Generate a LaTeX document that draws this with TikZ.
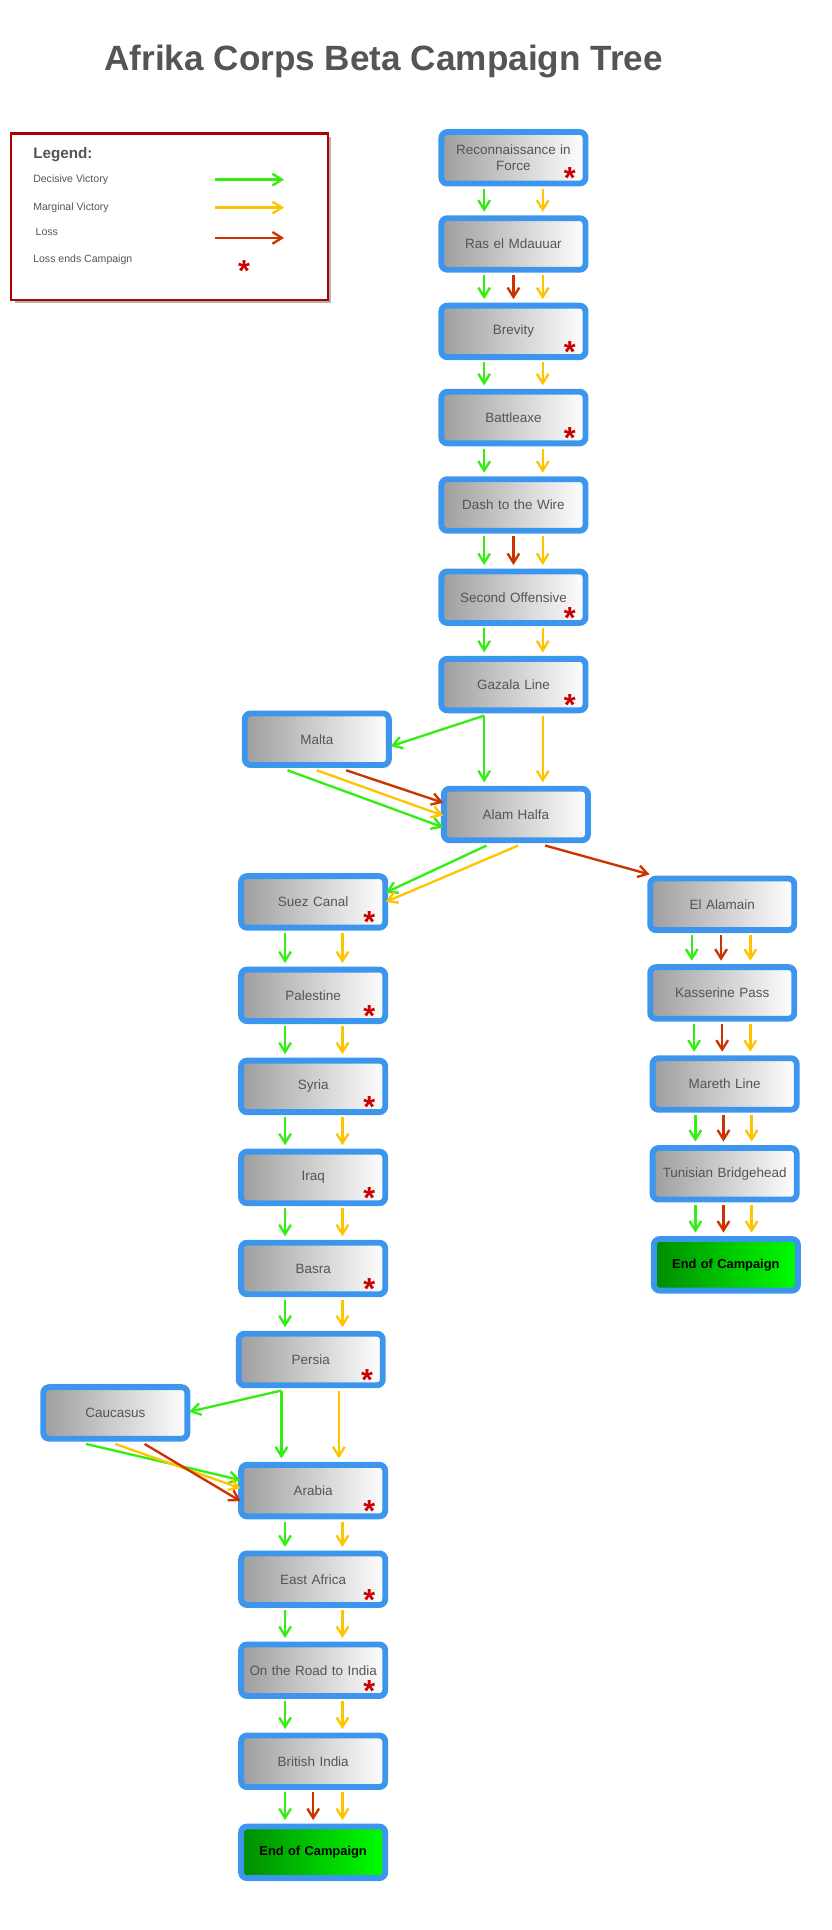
\documentclass[tikz,border=0pt]{standalone}
\usepackage{fontspec}
\setmainfont{Liberation Sans}
\usetikzlibrary{arrows.meta}
\definecolor{bord}{HTML}{3C96EE}
\definecolor{gv}{HTML}{33EE11}
\definecolor{yv}{HTML}{FFC400}
\definecolor{rl}{HTML}{CC3300}
\definecolor{txt}{HTML}{555555}
\definecolor{star}{HTML}{CC0000}
\begin{document}
\begin{tikzpicture}[x=1.0362pt,y=-1.0362pt,
 box/.style={draw=bord,line width=5pt,rounded corners=5pt,left color=black!38,right color=white,
   minimum width=123pt,minimum height=44pt,text width=118pt,align=center,text=txt,font=\fontsize{11.5}{13}\selectfont,inner sep=1pt},
 endbox/.style={box,left color=green!55!black,right color=green,text=black,font=\fontsize{11}{13}\selectfont\bfseries},
 ar/.style={line width=2pt,-{Straight Barb[length=8pt,width=10pt]}},
 G/.style={ar,draw=gv},Y/.style={ar,draw=yv},R/.style={ar,draw=rl},
 st/.style={text=star,font=\fontsize{26}{26}\selectfont\bfseries,inner sep=0pt}]
\useasboundingbox (0,0) rectangle (685,1590);
\node[text=txt,font=\fontsize{30}{32}\selectfont\bfseries] (title) at (316,51) {Afrika Corps Beta Campaign Tree};
% legend
\fill[black!30] (12,113) rectangle (273,250);
\draw[draw=star!85!black,line width=2pt,fill=white] (9,110) rectangle (270,247);
\node[anchor=west,text=txt,font=\fontsize{13}{15}\selectfont\bfseries] (lg) at (24,127) {Legend:};
\node[anchor=west,text=txt,font=\fontsize{9}{10}\selectfont] (l1) at (24,148) {Decisive Victory};
\node[anchor=west,text=txt,font=\fontsize{9}{10}\selectfont] (l2) at (24,171) {Marginal Victory};
\node[anchor=west,text=txt,font=\fontsize{9}{10}\selectfont] (l3) at (26,191) {Loss};
\node[anchor=west,text=txt,font=\fontsize{9}{10}\selectfont] (l4) at (24,214) {Loss ends Campaign};
\coordinate (a1) at (177,148); \coordinate (b1) at (234,148);
\coordinate (a2) at (177,171); \coordinate (b2) at (234,171);
\coordinate (a3) at (177,196); \coordinate (b3) at (234,196);
\draw[G] (a1) -- (b1); \draw[Y] (a2) -- (b2); \draw[R] (a3) -- (b3);
\node[st] (ls) at (201,223) {*};
\newcommand{\bx}[5]{\node[#1] (#2) at (#3) {#4};\ifnum#5=1 \node[st] at ([xshift=-16pt,yshift=7pt]#2.south east) {*};\fi}
\bx{box}{rec}{423,130}{Reconnaissance in\\Force}{1}
\bx{box}{ras}{423,201}{Ras el Mdauuar}{0}
\bx{box}{bre}{423,273}{Brevity}{1}
\bx{box}{bat}{423,344}{Battleaxe}{1}
\bx{box}{das}{423,416}{Dash to the Wire}{0}
\bx{box}{sec}{423,492}{Second Offensive}{1}
\bx{box}{gaz}{423,564}{Gazala Line}{1}
\bx{box}{mal}{261,609}{Malta}{0}
\bx{box}{ala}{425,671}{Alam Halfa}{0}
\bx{box}{sue}{258,743}{Suez Canal}{1}
\bx{box}{pal}{258,820}{Palestine}{1}
\bx{box}{syr}{258,895}{Syria}{1}
\bx{box}{ira}{258,970}{Iraq}{1}
\bx{box}{bas}{258,1045}{Basra}{1}
\bx{box}{per}{256,1120}{Persia}{1}
\bx{box}{cau}{95,1164}{Caucasus}{0}
\bx{box}{ara}{258,1228}{Arabia}{1}
\bx{box}{eaf}{258,1301}{East Africa}{1}
\bx{box}{roa}{258,1376}{On the Road to India}{1}
\bx{box}{bri}{258,1451}{British India}{0}
\bx{endbox}{end1}{258,1526}{End of Campaign}{0}
\bx{box}{ela}{595,745}{El Alamain}{0}
\bx{box}{kas}{595,818}{Kasserine Pass}{0}
\bx{box}{mar}{597,893}{Mareth Line}{0}
\bx{box}{tun}{597,967}{Tunisian Bridgehead}{0}
\bx{endbox}{end2}{598,1042}{End of Campaign}{0}
\newcommand{\va}[4]{\path ([xshift=#4pt,yshift=-2pt]#2.south) coordinate (tmp); \draw[#1] (tmp) -- ([yshift=3pt]tmp |- #3.north);}
\va{G}{rec}{ras}{-25}\va{Y}{rec}{ras}{25}
\va{G}{ras}{bre}{-25}\va{R}{ras}{bre}{0}\va{Y}{ras}{bre}{25}
\va{G}{bre}{bat}{-25}\va{Y}{bre}{bat}{25}
\va{G}{bat}{das}{-25}\va{Y}{bat}{das}{25}
\va{G}{das}{sec}{-25}\va{R}{das}{sec}{0}\va{Y}{das}{sec}{25}
\va{G}{sec}{gaz}{-25}\va{Y}{sec}{gaz}{25}
\draw[G] ([xshift=-25pt,yshift=-2pt]gaz.south) -- ([yshift=-6pt,xshift=-1pt]mal.east);
\va{G}{gaz}{ala}{-25}\va{Y}{gaz}{ala}{25}
\draw[G] ([xshift=-25pt,yshift=-2pt]mal.south) -- ([yshift=-11pt,xshift=2pt]ala.west);
\draw[Y] ([xshift=0pt,yshift=-2pt]mal.south) -- ([yshift=-1pt,xshift=2pt]ala.west);
\draw[R] ([xshift=25pt,yshift=-2pt]mal.south) -- ([yshift=10pt,xshift=2pt]ala.west);
\draw[G] ([xshift=-25pt,yshift=-2pt]ala.south) -- ([yshift=8pt,xshift=-2pt]sue.east);
\draw[Y] ([xshift=2pt,yshift=-2pt]ala.south) -- ([yshift=0pt,xshift=-2pt]sue.east);
\draw[R] ([xshift=25pt,yshift=-2pt]ala.south) -- ([xshift=2pt,yshift=1pt]ela.north west);
\va{G}{sue}{pal}{-24}\va{Y}{sue}{pal}{25}
\va{G}{pal}{syr}{-24}\va{Y}{pal}{syr}{25}
\va{G}{syr}{ira}{-24}\va{Y}{syr}{ira}{25}
\va{G}{ira}{bas}{-24}\va{Y}{ira}{bas}{25}
\va{G}{bas}{per}{-24}\va{Y}{bas}{per}{25}
\draw[G] ([xshift=-25pt,yshift=-2pt]per.south) -- ([yshift=1pt,xshift=-1pt]cau.east);
\va{G}{per}{ara}{-25}\va{Y}{per}{ara}{24}
\draw[G] ([xshift=-25pt,yshift=-2pt]cau.south) -- ([yshift=9pt,xshift=2pt]ara.west);
\draw[Y] ([xshift=0pt,yshift=-2pt]cau.south) -- ([yshift=2pt,xshift=2pt]ara.west);
\draw[R] ([xshift=25pt,yshift=-2pt]cau.south) -- ([yshift=-9pt,xshift=2pt]ara.west);
\va{G}{ara}{eaf}{-24}\va{Y}{ara}{eaf}{25}
\va{G}{eaf}{roa}{-24}\va{Y}{eaf}{roa}{25}
\va{G}{roa}{bri}{-24}\va{Y}{roa}{bri}{25}
\va{G}{bri}{end1}{-24}\va{R}{bri}{end1}{0}\va{Y}{bri}{end1}{25}
\va{G}{ela}{kas}{-26}\va{R}{ela}{kas}{-1}\va{Y}{ela}{kas}{24}
\va{G}{kas}{mar}{-24}\va{R}{kas}{mar}{0}\va{Y}{kas}{mar}{24}
\va{G}{mar}{tun}{-25}\va{R}{mar}{tun}{-1}\va{Y}{mar}{tun}{23}
\va{G}{tun}{end2}{-25}\va{R}{tun}{end2}{-1}\va{Y}{tun}{end2}{23}
\end{tikzpicture}
\end{document}
